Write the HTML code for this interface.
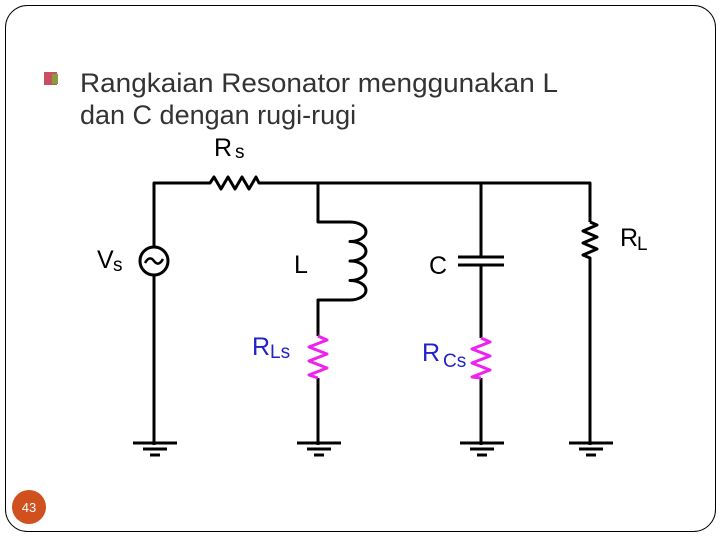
<!DOCTYPE html>
<html><head><style>
html,body{margin:0;padding:0;background:#fff;}
body{width:720px;height:540px;position:relative;overflow:hidden;font-family:"Liberation Sans",sans-serif;}
</style></head><body>
<svg width="720" height="540" viewBox="0 0 720 540" style="position:absolute;left:0;top:0">
<rect x="5.5" y="5.5" width="710" height="526" rx="22" fill="none" stroke="#000" stroke-width="1"/>
<circle cx="29" cy="507" r="17" fill="#d0501e"/>
<text x="29" y="512" font-size="13" fill="#fff" text-anchor="middle" font-family="Liberation Sans">43</text>
<rect x="44" y="72" width="13" height="13" fill="#c85060"/>
<rect x="52" y="74" width="6" height="10" fill="#8a9a40"/>
<text x="80" y="92" font-size="27" fill="#333" textLength="478" lengthAdjust="spacingAndGlyphs">Rangkaian Resonator menggunakan L</text>
<text x="80" y="124" font-size="27" fill="#333">dan C dengan rugi-rugi</text>
<g stroke="#000" stroke-width="3" fill="none" stroke-linejoin="round">
<path d="M154 445 V275 M154 247 V183 H210 l4 -6 l7 12 l7 -12 l7 12 l7 -12 l7 12 l7 -12 l3 6 H590 V222"/>
<circle cx="154" cy="261" r="14"/>
<path d="M145 263 q4.5 -8 9 -2 q4.5 6 9 -2" stroke-width="2.5"/>
<path d="M318 183 V222 H350 a16 9.75 0 1 1 0 19.5 a16 9.75 0 1 1 0 19.5 a16 9.75 0 1 1 0 19.5 a16 9.75 0 1 1 0 19.5 H318 V336"/>
<path d="M318 378 V445"/>
<path d="M481 183 V257 M458 257 H504 M458 265 H504 M481 265 V338 M481 378 V445"/>
<path d="M590 222 l7 3 l-14 6 l14 6 l-14 6 l14 6 l-14 6 l7 3 V445"/>
</g>
<g stroke="#ee22ee" stroke-width="3" fill="none" stroke-linejoin="round">
<path d="M318 336 l9 4 l-18 7 l18 7 l-18 7 l18 7 l-18 7 l9 3"/>
<path d="M481 338 l9 4 l-18 7 l18 7 l-18 7 l18 7 l-18 7 l9 1"/>
</g>
<g stroke="#000" stroke-width="3">
<path d="M133 443 H177 M143 449 H167 M150 455 H160"/>
<path d="M297 443 H341 M307 449 H331 M314 455 H324"/>
<path d="M460 443 H504 M470 449 H494 M477 455 H487"/>
<path d="M569 443 H613 M579 449 H603 M586 455 H596"/>
</g>
<g font-family="Liberation Sans" fill="#000">
<text x="214" y="156" font-size="25">R</text><text x="235" y="158" font-size="19">s</text>
<text x="97" y="268" font-size="25">V</text><text x="113" y="271" font-size="19">s</text>
<text x="294" y="273" font-size="25">L</text>
<text x="429" y="274" font-size="25">C</text>
<text x="620" y="246" font-size="25">R</text><text x="637" y="250" font-size="19">L</text>
</g>
<g font-family="Liberation Sans" fill="#2222cc">
<text x="252" y="355" font-size="25">R</text><text x="270" y="358" font-size="19">Ls</text>
<text x="422" y="361" font-size="25">R</text><text x="443" y="367" font-size="19">Cs</text>
</g>
</svg>
</body></html>
